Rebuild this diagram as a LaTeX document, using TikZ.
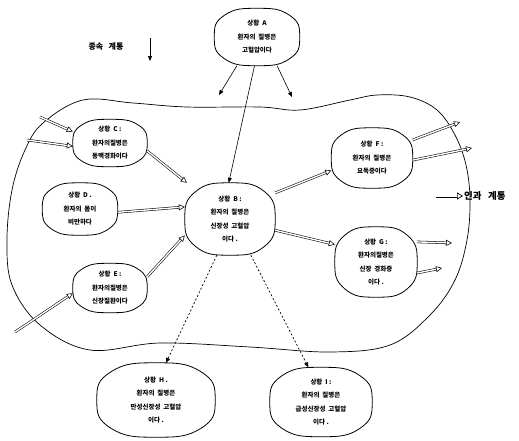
\documentclass[tikz,border=0pt]{standalone}
\usepackage{fontspec}
\setmainfont{Noto Sans CJK KR}
\usetikzlibrary{arrows.meta,calc}
\begin{document}
\begin{tikzpicture}[x=1pt,y=-1pt,
  situ/.style={align=center, font=\bfseries\fontsize{6.5}{13.5}\selectfont, inner sep=0pt},
  blobline/.style={line width=0.8pt},
  cause/.style={double, double distance=1.4pt, line width=0.55pt,
    -{Triangle[open, length=6pt, width=6pt]}},
  dep/.style={line width=0.6pt, -{Triangle[length=5pt, width=4pt]}},
  weak/.style={line width=0.7pt, dash pattern=on 2pt off 2pt,
    -{Triangle[length=5pt, width=4pt]}},
]
\useasboundingbox (0,0) rectangle (519,440);

% boundary of the causal system
\draw[line width=0.7pt] plot[smooth cycle, tension=0.6] coordinates {
  (43,123) (83,100) (133,103) (187,107) (260,107) (300,110) (350,100)
  (377,95) (410,97) (437,110) (455,135) (466,165) (470,200) (467,240)
  (455,280) (430,315) (390,345) (330,352) (250,347) (160,343) (90,350)
  (40,325) (12,285) (7,240) (12,190) (25,150)};

% situations
\node[situ, minimum width=85pt, minimum height=57pt] (A) at (257,37)
  {상황 \ A\\환자의 \ 질병은\\고혈압이다};
\node[situ, minimum width=74pt, minimum height=47pt] (C) at (110,143)
  {상황 \ C :\\환자의질병은\\동맥경화이다};
\node[situ, minimum width=75pt, minimum height=52pt] (D) at (80,209)
  {상황 \ D .\\환자의 \ 몸이\\비만하다};
\node[situ, minimum width=90pt, minimum height=72pt] (B) at (230,219)
  {상황 \ B :\\환자의 \ 질병은\\신장성 \ 고혈압\\이다 .};
\node[situ, minimum width=74pt, minimum height=49pt] (E) at (110,288)
  {상황 \ E :\\환자의질병은\\신장질환이다};
\node[situ, minimum width=81pt, minimum height=60pt] (F) at (372,158)
  {상황 \ F :\\환자의 \ 질병은\\요독증이다};
\node[situ, minimum width=82pt, minimum height=70pt] (G) at (376,262)
  {상황 \ G :\\환자의질병은\\신장 \ 경화증\\이다 .};
\node[situ, minimum width=118pt, minimum height=74pt] (H) at (156,400)
  {상황 \ H .\\환자의 \ 질병은\\만성신장성 \ 고혈압\\이다 .};
\node[situ, minimum width=102pt, minimum height=69pt] (I) at (321,402)
  {상황 \ I :\\환자의 \ 질병은\\급성신장성 \ 고혈압\\이다 .};

% rounded outlines of the situations
\foreach \n in {A,B,C,D,E,F,G,H,I} {
  \draw[blobline] plot[smooth cycle, tension=0.85] coordinates {
    (\n.north) ($(\n.center)!0.76!(\n.north east)$)
    (\n.east)  ($(\n.center)!0.76!(\n.south east)$)
    (\n.south) ($(\n.center)!0.76!(\n.south west)$)
    (\n.west)  ($(\n.center)!0.76!(\n.north west)$)};
}

% system labels
\node[font=\bfseries\fontsize{8}{10}\selectfont] (sub) at (106,47) {종속 \ \ 계통};
\coordinate (subA) at (150,38);
\coordinate (subB) at (150,61);
\draw[dep] (subA) -- (subB);

\node[font=\bfseries\fontsize{9.5}{11}\selectfont, anchor=west, inner sep=1pt] (cau) at (463,196) {인과 \ \ 계통};
\coordinate (cauA) at (436,196);
\draw[double, double distance=1.6pt, line width=0.7pt,
  -{Triangle[open, length=6pt, width=7pt]}] (cauA) -- (cau.west);

% dependency arrows from A
\coordinate (a1) at (219,95);
\coordinate (a2) at (292,97);
\draw[dep] (A.265) -- (B.92);
\draw[dep] (A.235) -- (a1);
\draw[dep] (A.305) -- (a2);

% causes entering the system
\coordinate (c1) at (40,117);
\coordinate (c2) at (27,140);
\coordinate (e1) at (15,332);
\draw[cause] (c1) -- (C.163);
\draw[cause] (c2) -- (C.185);
\draw[cause] (e1) -- (E.188);

% causes of B
\draw[cause] (C.-12) -- (B.140);
\draw[cause] (D.-5) -- (B.165);
\draw[cause] (E.17) -- (B.200);

% effects of B
\draw[cause] (B.30) -- (F.197);
\draw[cause] (B.-14) -- (G.157);
\draw[weak] (B.250) -- (H.75);
\draw[weak] (B.300) -- (I.110);

% effects leaving the system
\coordinate (f1) at (460,122);
\coordinate (f2) at (472,148);
\coordinate (g1) at (452,243);
\coordinate (g2) at (442,268);
\draw[cause] (F.24) -- (f1);
\draw[cause] (F.-3) -- (f2);
\draw[cause] (G.26) -- (g1);
\draw[cause] (G.-15) -- (g2);
\end{tikzpicture}
\end{document}
